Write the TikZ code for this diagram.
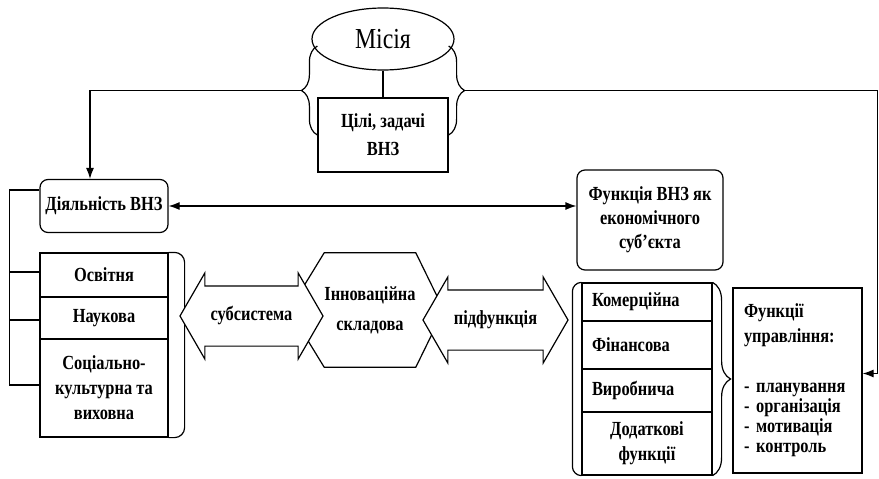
\documentclass[tikz,border=0pt]{standalone}
\usepackage{fontspec}
\setmainfont[FakeStretch=0.82]{Liberation Serif}
\usetikzlibrary{shapes.geometric,shapes.arrows,decorations.pathreplacing,arrows.meta}
\tikzset{
  box/.style={draw,line width=1.2pt,inner sep=0pt,align=center},
  rbox/.style={box,rounded corners=8pt},
  lcell/.style={draw,line width=1.2pt,text width=110pt,inner xsep=10pt,inner ysep=0pt,align=left},
  dblarrow/.style={draw,fill=white,line width=1.2pt,double arrow,double arrow tip angle=120,
    double arrow head extend=13pt,text height=13pt,text depth=4pt,inner ysep=21pt,inner xsep=0pt},
  line/.style={line width=1.2pt},
  link/.style={line width=1.2pt,-{Latex[length=11pt,width=8pt]}},
  twolink/.style={line width=1.2pt,{Latex[length=11pt,width=8pt]}-{Latex[length=11pt,width=8pt]}},
  brc/.style={line width=1.2pt,decorate,decoration={brace,amplitude=#1}}
}

\begin{document}
\begin{tikzpicture}[x=1pt,y=-1pt,font=\fontsize{20}{25}\selectfont\bfseries]
    \useasboundingbox (0,0) rectangle (879,479);

    % — Mission and goals
    \node[draw,ellipse,line width=1.2pt,minimum width=142pt,minimum height=62pt,inner sep=0pt,
      font=\fontsize{29}{32}\selectfont] (missia) at (383,39) {Місія};
    \node[box,minimum width=130pt,minimum height=74pt] (tsili) at (383,135) {Цілі, задачі\\[3pt]ВНЗ};
    \draw[line] (missia) -- (tsili);

    % — Braces on both sides of the goals box
    \draw[brc=16pt] (tsili.west) -- ([yshift=89pt]tsili.west);
    \draw[brc=16pt] ([yshift=89pt]tsili.east) -- (tsili.east);
    \coordinate (ltip) at ([xshift=-16pt,yshift=44.5pt]tsili.west);
    \coordinate (rtip) at ([xshift=16pt,yshift=44.5pt]tsili.east);

    % — Activity and economic function
    \node[rbox,minimum width=128pt,minimum height=53pt] (diyal) at (104,206) {Діяльність ВНЗ};
    \node[rbox,minimum width=146pt,minimum height=100pt] (funkts) at (650,220)
      {Функція ВНЗ як\\[-1pt]економічного\\[-1pt]суб’єкта};

    % — Left stack
    \node[box,minimum width=128pt,minimum height=44pt] (osvit) at (104,275) {Освітня};
    \node[box,minimum width=128pt,minimum height=42pt] (nauk) at (104,318) {Наукова};
    \node[box,minimum width=128pt,minimum height=98pt] (sots) at (104,388)
      {Соціально-\\культурна та\\виховна};
    \draw[line,rounded corners=10pt] (osvit.north east) -- ++(16,0) |- (sots.south east);

    % — Right stack
    \node[lcell,minimum height=38pt] (komerts) at (647,302) {Комерційна};
    \node[lcell,minimum height=48pt] (finans) at (647,345) {Фінансова};
    \node[lcell,minimum height=43pt] (vyrob) at (647,390.5) {Виробнича};
    \node[box,minimum width=130pt,minimum height=63pt] (dodat) at (647,443.5) {Додаткові\\функції};
    \draw[line,rounded corners=9pt] (komerts.north west) -- ++(-9,0) |- (dodat.south west);
    \draw[brc=18pt] (komerts.north east) -- (dodat.south east);

    % — Management functions
    \node[box,minimum height=185pt,text width=107pt,inner xsep=11pt,align=left] (keruv) at (797.5,380.5)
      {Функції\\управління:\\[25pt]- планування\\[-5pt]- організація\\[-5pt]- мотивація\\[-5pt]- контроль\\[2pt]};

    % — Innovation component
    \node[minimum width=90pt,minimum height=114pt,inner sep=0pt,align=center] (innov) at (370,310)
      {Інноваційна\\[5pt]складова};
    \draw[line] (innov.north west) -- (innov.north east) -- ([xshift=28pt]innov.east)
      -- (innov.south east) -- (innov.south west) -- ([xshift=-35pt]innov.west) -- cycle;
    \node[dblarrow,minimum height=143pt] (subs) at (251.5,316) {субсистема};
    \node[dblarrow,minimum height=145pt] (pidf) at (495.5,320) {підфункція};

    % — Connections
    \draw[twolink] (diyal.east) -- (diyal.east -| funkts.west);
    \draw[link] (ltip) -| ([xshift=-14pt]diyal.north);
    \draw[link] (rtip) -- ++(413,0) |- ([yshift=7pt]keruv.east);
    \draw[line] ([yshift=16pt]diyal.west) -- ++(-30,0) |- ([yshift=3pt]sots.west);
    \draw[line] ([yshift=3pt]osvit.west) -- ++(-30,0);
    \draw[line] ([yshift=-2pt]nauk.west) -- ++(-30,0);
\end{tikzpicture}
\end{document}
